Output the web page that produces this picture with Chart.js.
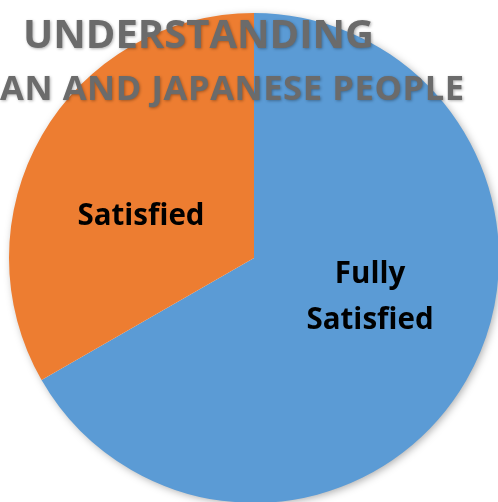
<!DOCTYPE html>
<html>
<head>
<meta charset="utf-8">
<script src="https://cdn.jsdelivr.net/npm/chart.js@4.4.1/dist/chart.umd.min.js"></script>
<style>
    html, body { margin: 0; padding: 0; overflow: hidden; background: #ffffff; }
    #wrap { position: absolute; left: 0; top: 0; }
</style>
</head>
<body>
<div id="wrap"><canvas id="pie-chart" width="500" height="504"></canvas></div>
<script>
// Chart data
const categories = ['Fully Satisfied', 'Satisfied'];
const labelLines = [['Fully', 'Satisfied'], ['Satisfied']];
const shares = [66.7, 33.3];
const sliceColors = ['#5B9BD5', '#ED7D31'];
const titleLines = ['UNDERSTANDING', 'INDIAN AND JAPANESE PEOPLE'];

/**
 * Soft shadow behind the whole pie
 */
const pieShadow = {
    id: 'pieShadow',
    beforeDatasetsDraw(chart) {
        const arc = chart.getDatasetMeta(0).data[0];
        if (!arc) return;
        const ctx = chart.ctx;
        ctx.save();
        ctx.shadowColor = 'rgba(0, 0, 0, 0.35)';
        ctx.shadowBlur = 8;
        ctx.shadowOffsetX = 2;
        ctx.shadowOffsetY = 2;
        ctx.fillStyle = '#ffffff';
        ctx.beginPath();
        ctx.arc(arc.x, arc.y, arc.outerRadius - 1, 0, Math.PI * 2);
        ctx.fill();
        ctx.restore();
    }
};

/**
 * Slice labels, placed from each arc's own position
 */
const sliceLabels = {
    id: 'sliceLabels',
    afterDatasetsDraw(chart, args, opts) {
        const ctx = chart.ctx;
        const meta = chart.getDatasetMeta(0);
        ctx.save();
        ctx.font = opts.font;
        ctx.fillStyle = opts.color;
        ctx.textAlign = 'center';
        ctx.textBaseline = 'alphabetic';
        const capHeight = ctx.measureText('S').actualBoundingBoxAscent;
        meta.data.forEach((arc, i) => {
            const pos = arc.tooltipPosition();
            const off = opts.offsets[i] || [0, 0];
            const lines = labelLines[i];
            const cx = pos.x + off[0];
            const cy = pos.y + off[1];
            const top = cy - (lines.length - 1) * opts.lineHeight / 2;
            lines.forEach((line, j) => {
                ctx.fillText(line, cx, top + j * opts.lineHeight + capHeight / 2);
            });
        });
        ctx.restore();
    }
};

/**
 * Title drawn over the pie
 */
const overTitle = {
    id: 'overTitle',
    afterDraw(chart, args, opts) {
        const ctx = chart.ctx;
        ctx.save();
        ctx.fillStyle = opts.color;
        ctx.textAlign = 'center';
        ctx.textBaseline = 'alphabetic';
        ctx.shadowColor = 'rgba(0, 0, 0, 0.3)';
        ctx.shadowBlur = 3;
        ctx.shadowOffsetX = 1;
        ctx.shadowOffsetY = 1;
        titleLines.forEach((line, i) => {
            ctx.font = opts.fonts[i];
            ctx.letterSpacing = opts.spacing[i];
            ctx.fillText(line, opts.x[i], opts.baselines[i]);
        });
        ctx.restore();
    }
};

const ctx = document.getElementById('pie-chart');

new Chart(ctx, {
    type: 'pie',
    data: {
        labels: categories,
        datasets: [{
            data: shares,
            backgroundColor: sliceColors,
            borderWidth: 0,
            hoverOffset: 0,
            offset: 0
        }]
    },
    options: {
        responsive: false,
        devicePixelRatio: 1,
        animation: false,
        layout: {
            padding: { left: 9, top: 13, right: 1, bottom: 1 }
        },
        plugins: {
            legend: { display: false },
            tooltip: { enabled: false },
            sliceLabels: {
                font: 'bold 29.5px "Open Sans"',
                color: '#000000',
                lineHeight: 46,
                offsets: [[10, -24], [-7, 17]]
            },
            overTitle: {
                color: '#6b6b6b',
                x: [198.5, 193],
                baselines: [48, 100],
                spacing: ['0px', '0.6px'],
                fonts: ['bold 40px "Open Sans"', 'bold 34.5px "Open Sans"']
            }
        }
    },
    plugins: [pieShadow, sliceLabels, overTitle]
});
</script>
</body>
</html>
